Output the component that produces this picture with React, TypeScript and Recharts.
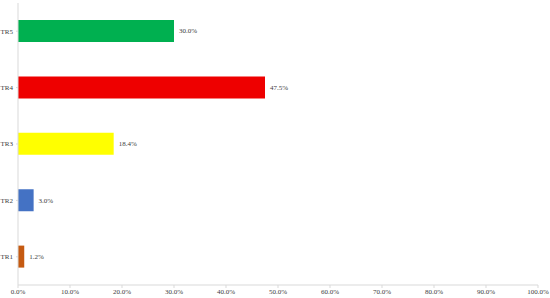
import { Bar, BarChart, Cell, LabelList, XAxis, YAxis } from 'recharts'

const categories = ['TR1', 'TR2', 'TR3', 'TR4', 'TR5']
const shares = [1.2, 3.0, 18.4, 47.5, 30.0]
const colors = ['#C55A11', '#4472C4', '#FFFF00', '#EE0000', '#00B050']
const xTicks = [0, 10, 20, 30, 40, 50, 60, 70, 80, 90, 100]

// top bar first in vertical layout
const data = categories.map((name, i) => ({ name, value: shares[i], color: colors[i] })).reverse()

const font = { fontFamily: 'Liberation Serif', fontSize: 7, fill: '#404040' }
const pct = (v: number) => `${Number(v).toFixed(1)}%`

export default function App() {
  return (
    <div style={{ position: 'absolute', left: 0, top: 0, background: '#fff' }}>
      <BarChart width={550} height={298} data={data} layout="vertical" margin={{ top: 3, right: 12, left: 0, bottom: 0 }}>
        <XAxis
          type="number"
          domain={[0, 100]}
          ticks={xTicks}
          tickFormatter={pct}
          tick={font}
          stroke="#d9d9d9"
          tickSize={3}
          tickMargin={1}
          height={13}
          interval={0}
        />
        <YAxis type="category" dataKey="name" tick={font} stroke="#d9d9d9" width={18} tickSize={2} tickMargin={3} />
        <Bar dataKey="value" barSize={22} isAnimationActive={false}>
          {data.map((d) => (
            <Cell key={d.name} fill={d.color} />
          ))}
          <LabelList dataKey="value" position="right" offset={5} formatter={pct} style={font} />
        </Bar>
      </BarChart>
    </div>
  )
}
